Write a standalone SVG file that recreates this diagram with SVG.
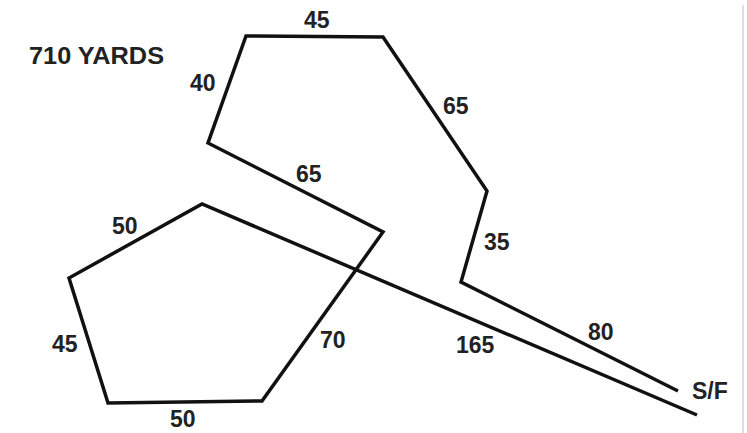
<svg xmlns="http://www.w3.org/2000/svg" width="747" height="433" viewBox="0 0 747 433">
<style>
.course{fill:none;stroke:#111;stroke-width:3.5;stroke-linejoin:miter;stroke-linecap:butt}
.lbl{font-family:"Liberation Sans",Arial,sans-serif;font-weight:bold;font-size:23px;fill:#222}
</style>
<rect width="747" height="433" fill="#fff"/>
<line x1="743" y1="5" x2="743" y2="433" stroke="#d4d4d4" stroke-width="1.5"/>
<g id="course">
<polyline class="course" points="678,391 461,282 487,191 383,37 246,36 208,143 383,232 262,401 108,403 69,278 202,204 697,415"/>
</g>
<g id="labels">
<text class="lbl" x="29" y="64" textLength="135" lengthAdjust="spacingAndGlyphs">710 YARDS</text>
<text class="lbl" x="304" y="28">45</text>
<text class="lbl" x="190" y="91">40</text>
<text class="lbl" x="443" y="114">65</text>
<text class="lbl" x="296" y="182">65</text>
<text class="lbl" x="484" y="250">35</text>
<text class="lbl" x="588" y="340">80</text>
<text class="lbl" x="456" y="353">165</text>
<text class="lbl" x="692" y="399">S/F</text>
<text class="lbl" x="320" y="348">70</text>
<text class="lbl" x="170" y="427">50</text>
<text class="lbl" x="52" y="352">45</text>
<text class="lbl" x="112" y="234">50</text>
</g>
</svg>
